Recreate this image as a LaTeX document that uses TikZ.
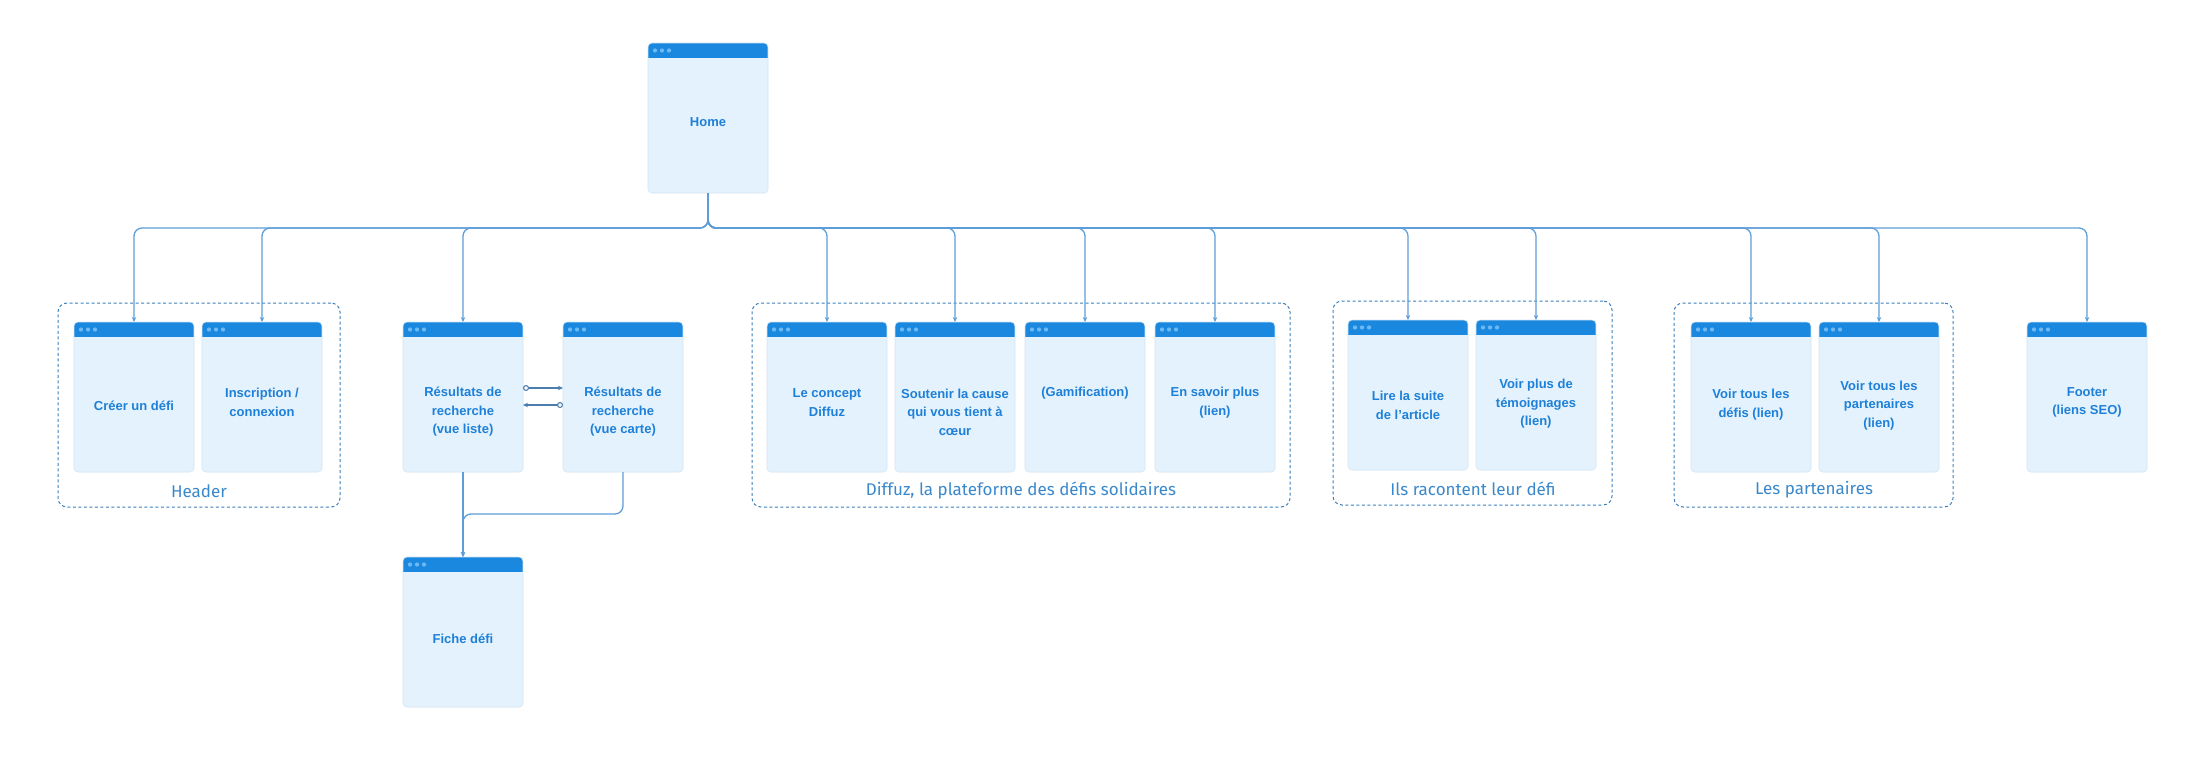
\documentclass[tikz,border=0pt]{standalone}
\usepackage{fontspec}
\setmainfont{Liberation Sans}
\newfontfamily\glabelfont{Fira Sans}
\usetikzlibrary{arrows.meta,fit,calc}
\definecolor{barblue}{HTML}{1B88E0}
\definecolor{pagefill}{HTML}{E3F2FD}
\definecolor{pageline}{HTML}{D3E4F2}
\definecolor{dotblue}{HTML}{6DB9F4}
\definecolor{txtblue}{HTML}{1E80D8}
\definecolor{connblue}{HTML}{5E9ED8}
\definecolor{grpblue}{HTML}{3C80BC}
\definecolor{lblblue}{HTML}{3A88CC}
\begin{document}
\begin{tikzpicture}[x=1pt,y=-1pt,
 pagebox/.style={draw=pageline, line width=0.6pt, fill=pagefill, rounded corners=4pt,
   minimum width=120pt, minimum height=150pt, inner sep=0pt, outer sep=0pt, anchor=north west,
   path picture={
     \fill[barblue, sharp corners] (path picture bounding box.north west) rectangle ([yshift=-15pt]path picture bounding box.north east);
     \foreach \d in {7,14,21} \fill[dotblue] ([xshift=\d pt, yshift=-7.5pt]path picture bounding box.north west) circle[radius=2.1pt];
   }},
 pagetext/.style={text=txtblue, font=\fontsize{13}{18.5}\selectfont\bfseries, align=center, inner sep=0pt},
 conn/.style={draw=connblue, line width=1.3pt, rounded corners=8pt, -{Stealth[length=5pt,width=4.5pt]}},
 swaparrow/.style={draw=connblue!80!black, line width=1.1pt, {Circle[open,fill=white,length=6pt,width=6pt]}-{Stealth[length=5pt,width=4.5pt]}},
 groupbox/.style={draw=grpblue, line width=1pt, dash pattern=on 3pt off 2.5pt, rounded corners=9pt, inner sep=0pt},
 grplabel/.style={text=lblblue, font=\glabelfont\fontsize{17}{20}\selectfont, inner sep=0pt}
]
\useasboundingbox (0,0) rectangle (2200,760);
\fill[white] (0,0) rectangle (2200,760);

% groups
\node[groupbox, fit={(58,303) (340,507)}] (hdrgrp) {};
\node[groupbox, fit={(752,303) (1290,507)}] (difgrp) {};
\node[groupbox, fit={(1333,301) (1612,505)}] (ilsgrp) {};
\node[groupbox, fit={(1674,303) (1953,507)}] (partgrp) {};
\node[grplabel] (hdrlbl) at (199,491) {Header};
\node[grplabel] (diflbl) at (1021,490) {Diffuz, la plateforme des défis solidaires};
\node[grplabel] (ilslbl) at (1473,489) {Ils racontent leur défi};
\node[grplabel] (partlbl) at (1814,490) {Les partenaires};

% pages
\node[pagebox] (home) at (648,43) {};
\node[pagebox] (creer) at (74,322) {};
\node[pagebox] (inscr) at (202,322) {};
\node[pagebox] (liste) at (403,322) {};
\node[pagebox] (carte) at (563,322) {};
\node[pagebox] (fiche) at (403,557) {};
\node[pagebox] (concept) at (767,322) {};
\node[pagebox] (soutenir) at (895,322) {};
\node[pagebox] (gamif) at (1025,322) {};
\node[pagebox] (savoir) at (1155,322) {};
\node[pagebox] (lire) at (1348,320) {};
\node[pagebox] (temoin) at (1476,320) {};
\node[pagebox] (tousdefis) at (1691,322) {};
\node[pagebox] (touspart) at (1819,322) {};
\node[pagebox] (footer) at (2027,322) {};

% texts
\node[pagetext] (homet) at ($(home.north)+(0,79)$) {Home};
\node[pagetext] (creert) at ($(creer.north)+(0,84)$) {Créer un défi};
\node[pagetext] (inscrt) at ($(inscr.north)+(0,80.5)$) {Inscription /\\connexion};
\node[pagetext] (listet) at ($(liste.north)+(0,90)$) {Résultats de\\recherche\\(vue liste)};
\node[pagetext] (cartet) at ($(carte.north)+(0,90)$) {Résultats de\\recherche\\(vue carte)};
\node[pagetext] (fichet) at ($(fiche.north)+(0,82)$) {Fiche défi};
\node[pagetext] (conceptt) at ($(concept.north)+(0,80.5)$) {Le concept\\Diffuz};
\node[pagetext] (soutenirt) at ($(soutenir.north)+(0,90)$) {Soutenir la cause\\qui vous tient à\\cœur};
\node[pagetext] (gamift) at ($(gamif.north)+(0,71)$) {(Gamification)};
\node[pagetext] (savoirt) at ($(savoir.north)+(0,80.5)$) {En savoir plus\\(lien)};
\node[pagetext] (liret) at ($(lire.north)+(0,85.5)$) {Lire la suite\\de l'article};
\node[pagetext] (temoint) at ($(temoin.north)+(0,84)$) {Voir plus de\\témoignages\\(lien)};
\node[pagetext] (tousdefist) at ($(tousdefis.north)+(0,82.5)$) {Voir tous les\\défis (lien)};
\node[pagetext] (toupartt) at ($(touspart.north)+(0,83.5)$) {Voir tous les\\partenaires\\(lien)};
\node[pagetext] (footert) at ($(footer.north)+(0,80.5)$) {Footer\\(liens SEO)};

% connectors
\coordinate (bus) at (708,228);
\foreach \t in {creer,inscr,liste,concept,soutenir,gamif,savoir,lire,temoin,tousdefis,touspart,footer}
  \draw[conn] (home.south) -- (bus) -| (\t.north);

\draw[swaparrow] ([yshift=9pt]liste.east) -- ([yshift=9pt]carte.west);
\draw[swaparrow] ([yshift=-8pt]carte.west) -- ([yshift=-8pt]liste.east);

\coordinate (fj) at (463,514);
\draw[conn] (liste.south) -- (fiche.north);
\draw[conn] (carte.south) |- (fj) -- (fiche.north);
\end{tikzpicture}
\end{document}
